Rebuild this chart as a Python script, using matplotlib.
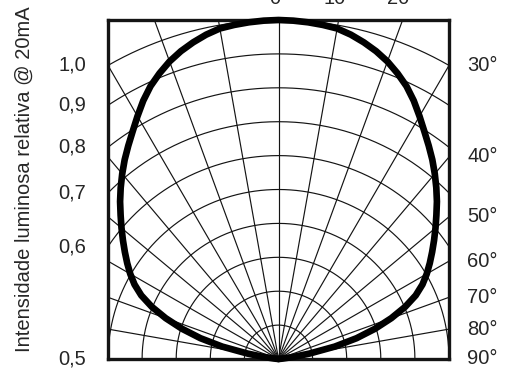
import numpy as np
import matplotlib
matplotlib.use("Agg")
import matplotlib.pyplot as plt

plt.rcParams['font.family'] = ['Liberation Sans', 'DejaVu Sans']

# radiation pattern (one half, mirrored): angle from axis [deg] vs relative intensity
angles_deg = [0, 2.5, 5, 7.5, 10, 12.5, 15, 17.5, 20, 22.5, 25, 27.5, 30, 32.5, 35, 37.5,
              40, 42.5, 45, 47.5, 50, 52.5, 55, 57.5, 60, 62.5, 65, 67.5, 70, 72.5, 75,
              77.5, 80, 82, 84, 86]
rel_intensity = [1.000, 0.999, 0.997, 0.994, 0.990, 0.980, 0.967, 0.952, 0.934, 0.912,
                 0.888, 0.859, 0.827, 0.796, 0.768, 0.741, 0.713, 0.685, 0.657, 0.628,
                 0.601, 0.575, 0.550, 0.526, 0.502, 0.476, 0.444, 0.402, 0.352, 0.297,
                 0.237, 0.169, 0.092, 0.045, 0.012, 0.0]

left_ticks = [1.0, 0.9, 0.8, 0.7, 0.6, 0.5]
left_labels = ['1,0', '0,9', '0,8', '0,7', '0,6', '0,5']
right_angles = [30, 40, 50, 60, 70, 80, 90]
top_angles = [0, 10, 20]

ink = '#141414'
txt = '#262626'

fig = plt.figure(figsize=(5.18, 3.78), dpi=100)
ax = fig.add_axes([108 / 518, 1 - 359 / 378, 341 / 518, 339 / 378])
ax.set_xlim(-0.5, 0.5)
ax.set_ylim(0, 1)
ax.set_xticks([])
ax.set_yticks([])
for sp in ax.spines.values():
    sp.set_linewidth(2.4)
    sp.set_color(ink)

# polar grid: radial lines every 10 deg, circles every 0.1
for a in range(-90, 91, 10):
    t = np.radians(a)
    ax.plot([0, 1.3 * np.sin(t)], [0, 1.3 * np.cos(t)], color=ink, lw=0.85)
tt = np.radians(np.linspace(-90, 90, 361))
for r in np.arange(0.1, 1.01, 0.1):
    ax.plot(r * np.sin(tt), r * np.cos(tt), color=ink, lw=0.85)

# pattern curve
half_a = np.array(angles_deg, dtype=float)
half_r = np.array(rel_intensity)
a_full = np.concatenate([-half_a[::-1], half_a[1:]])
r_full = np.concatenate([half_r[::-1], half_r[1:]])
th = np.radians(a_full)
ax.plot(r_full * np.sin(th), r_full * np.cos(th), color='black', lw=4.8,
        solid_joinstyle='round', solid_capstyle='round', clip_on=False, zorder=5)

# left scale: where intensity circles meet the left edge
for v, lab in zip(left_ticks, left_labels):
    y = np.sqrt(max(v ** 2 - 0.25, 0.0))
    ax.text(-0.565, y, lab, ha='right', va='center', fontsize=14.5, color=txt, clip_on=False)

# right scale: where radial lines meet the right edge
for a in right_angles:
    y = 0.5 / np.tan(np.radians(a)) if a < 90 else 0.0
    ax.text(0.553, y, f'{a}°', ha='left', va='center', fontsize=14.5, color=txt, clip_on=False)

# top scale (mostly cut off by the figure edge, as in the original scan)
for a in top_angles:
    ax.text(np.tan(np.radians(a)), 1.047, f'{a}°', ha='center', va='baseline',
            fontsize=14.5, color=txt, clip_on=False)

fig.text(24 / 518, 1 - 179.5 / 378, 'Intensidade luminosa relativa @ 20mA',
         rotation=90, ha='center', va='center', fontsize=14.5, color=txt)

fig.savefig('out.png', dpi=100)
